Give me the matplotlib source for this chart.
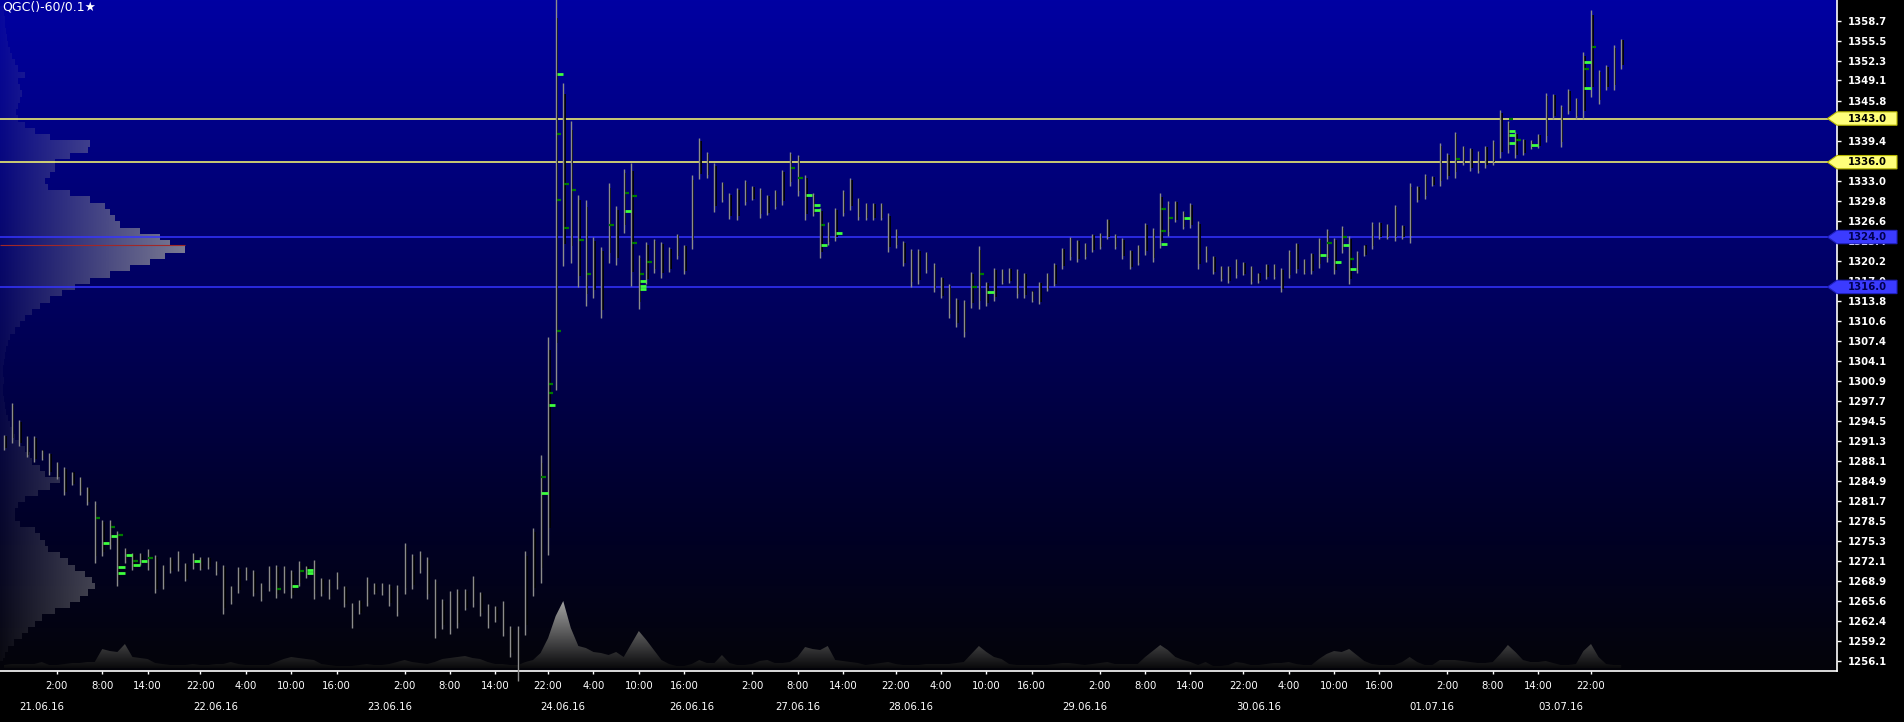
import numpy as np
import pandas as pd
import matplotlib
matplotlib.use('Agg')
import matplotlib.pyplot as plt
from matplotlib import transforms
from matplotlib.colors import LinearSegmentedColormap
from matplotlib.patches import Polygon

# QGC 60 min bars, 20.06.16 19:00 .. 04.07.16 02:00 (no 17:00 bar, no weekend)
bar_high = [
    1292.3, 1297.4, 1294.6, 1292.1, 1292.1, 1289.9, 1289.4, 1288.0, 1287.1, 1286.4,
    1285.6, 1284.0, 1281.7, 1278.6, 1278.6, 1276.9, 1274.1, 1273.4, 1273.3, 1274.0,
    1273.1, 1271.5, 1272.7, 1273.6, 1271.8, 1273.3, 1272.7, 1272.7, 1272.0, 1271.5,
    1268.0, 1271.1, 1271.1, 1270.6, 1268.5, 1271.3, 1271.5, 1271.3, 1270.6, 1272.0,
    1271.3, 1272.3, 1269.4, 1269.2, 1270.3, 1268.1, 1265.4, 1265.8, 1269.5, 1268.5,
    1268.5, 1268.3, 1268.2, 1274.9, 1273.2, 1273.6, 1272.7, 1269.2, 1266.0, 1267.3,
    1267.6, 1267.5, 1269.6, 1267.1, 1265.1, 1264.9, 1265.6, 1261.7, 1261.7, 1273.6,
    1277.3, 1289.0, 1307.9, 1363.0, 1348.7, 1342.6, 1330.8, 1329.9, 1324.0, 1322.4,
    1332.6, 1328.9, 1334.9, 1335.8, 1321.1, 1323.2, 1323.7, 1323.2, 1322.4, 1324.5,
    1322.8, 1333.9, 1339.8, 1337.6, 1335.8, 1332.8, 1331.0, 1331.9, 1333.1, 1332.2,
    1331.9, 1330.8, 1331.5, 1334.7, 1337.6, 1337.2, 1333.9, 1331.0, 1328.7, 1326.4,
    1328.7, 1331.5, 1333.4, 1330.3, 1329.4, 1329.5, 1329.4, 1327.8, 1325.3, 1323.3,
    1322.1, 1322.1, 1321.6, 1319.8, 1317.6, 1316.4, 1314.2, 1313.9, 1318.4, 1322.6,
    1316.8, 1319.1, 1318.8, 1319.0, 1318.8, 1318.3, 1315.4, 1316.8, 1318.2, 1319.8,
    1322.3, 1324.0, 1323.5, 1323.1, 1324.5, 1324.6, 1326.9, 1324.5, 1323.8, 1321.9,
    1322.8, 1326.3, 1325.5, 1331.0, 1329.7, 1329.8, 1328.2, 1329.4, 1326.6, 1322.5,
    1321.0, 1319.3, 1319.3, 1320.5, 1320.0, 1319.3, 1318.3, 1319.6, 1319.6, 1319.0,
    1321.9, 1323.1, 1320.4, 1321.4, 1323.8, 1325.3, 1323.9, 1325.7, 1324.1, 1321.7,
    1322.8, 1326.4, 1326.4, 1326.1, 1329.2, 1325.9, 1332.6, 1332.2, 1334.1, 1333.8,
    1339.0, 1337.4, 1340.9, 1338.6, 1338.3, 1337.8, 1338.6, 1339.5, 1344.3, 1342.6,
    1340.8, 1339.7, 1339.5, 1340.5, 1347.1, 1347.0, 1345.2, 1347.7, 1346.3, 1353.6,
    1360.4, 1350.7, 1351.5, 1354.8, 1355.8]

bar_low = [
    1289.8, 1291.0, 1290.5, 1288.7, 1288.0, 1288.2, 1285.9, 1285.2, 1282.6, 1284.2,
    1282.7, 1281.1, 1271.7, 1272.9, 1274.0, 1268.0, 1271.7, 1270.6, 1271.5, 1270.6,
    1266.9, 1267.5, 1270.1, 1270.4, 1268.8, 1270.8, 1270.6, 1270.8, 1269.8, 1263.6,
    1265.2, 1266.9, 1269.0, 1266.5, 1265.6, 1267.2, 1266.1, 1266.9, 1266.1, 1268.0,
    1269.4, 1266.0, 1266.4, 1265.9, 1267.6, 1264.7, 1261.4, 1263.5, 1264.8, 1266.8,
    1266.6, 1264.9, 1263.3, 1266.8, 1267.6, 1270.1, 1266.0, 1259.8, 1261.2, 1260.3,
    1261.4, 1264.2, 1264.7, 1263.3, 1261.4, 1262.3, 1260.0, 1256.7, 1252.8, 1260.2,
    1266.5, 1268.5, 1273.1, 1299.4, 1319.3, 1319.9, 1316.0, 1312.9, 1314.3, 1311.0,
    1319.9, 1319.5, 1324.7, 1316.1, 1312.5, 1316.4, 1318.3, 1317.5, 1318.4, 1320.4,
    1318.0, 1322.1, 1333.3, 1333.4, 1328.0, 1329.6, 1326.9, 1326.7, 1329.1, 1329.9,
    1327.1, 1327.5, 1328.5, 1329.1, 1332.2, 1330.6, 1326.8, 1327.3, 1320.7, 1322.8,
    1323.3, 1327.3, 1328.4, 1326.7, 1326.8, 1326.8, 1326.8, 1321.6, 1322.3, 1319.3,
    1316.0, 1316.4, 1318.3, 1315.2, 1314.2, 1311.0, 1309.6, 1308.0, 1312.7, 1312.5,
    1312.9, 1313.8, 1316.4, 1316.7, 1314.3, 1314.3, 1313.6, 1313.2, 1315.4, 1316.1,
    1318.9, 1320.3, 1320.0, 1320.4, 1321.6, 1322.1, 1323.7, 1322.1, 1320.5, 1318.8,
    1319.5, 1321.1, 1320.0, 1322.3, 1324.1, 1326.4, 1325.3, 1325.4, 1318.8, 1320.0,
    1318.0, 1317.0, 1316.7, 1317.5, 1317.9, 1316.4, 1316.7, 1317.3, 1317.3, 1315.2,
    1317.4, 1318.3, 1318.0, 1318.1, 1319.1, 1320.0, 1318.0, 1321.4, 1316.4, 1318.3,
    1320.9, 1322.1, 1323.7, 1323.7, 1323.3, 1323.7, 1323.0, 1329.6, 1330.1, 1332.2,
    1332.2, 1333.3, 1333.5, 1335.5, 1334.6, 1334.2, 1335.1, 1335.6, 1336.7, 1337.4,
    1336.7, 1337.1, 1338.1, 1338.3, 1339.2, 1343.0, 1338.4, 1343.7, 1343.0, 1343.0,
    1346.4, 1345.4, 1347.5, 1347.5, 1351.0]

bar_volume = [
    3, 4, 4, 4, 4, 6, 3, 3, 4, 5, 5, 6, 6, 19, 17, 16, 24, 11, 10, 9,
    5, 4, 3, 3, 3, 4, 3, 3, 4, 4, 6, 4, 3, 3, 3, 3, 6, 9, 11, 10,
    9, 8, 4, 3, 2, 2, 2, 3, 4, 3, 3, 4, 6, 8, 6, 5, 4, 6, 9, 10,
    11, 12, 10, 9, 6, 4, 4, 3, 3, 6, 8, 15, 30, 52, 67, 40, 22, 20, 16, 15,
    13, 16, 11, 24, 37, 28, 18, 8, 4, 2, 2, 4, 8, 5, 5, 13, 5, 3, 3, 4,
    7, 8, 5, 5, 6, 11, 21, 19, 18, 22, 8, 7, 6, 5, 3, 4, 5, 6, 4, 3,
    3, 3, 4, 4, 4, 4, 5, 6, 14, 22, 16, 11, 9, 4, 3, 3, 3, 3, 3, 4,
    5, 5, 4, 3, 4, 5, 6, 4, 4, 4, 4, 11, 17, 23, 18, 11, 8, 6, 3, 6,
    2, 2, 3, 6, 5, 3, 3, 4, 5, 5, 6, 4, 3, 3, 9, 14, 17, 16, 19, 13,
    7, 4, 3, 3, 3, 6, 11, 6, 3, 3, 8, 8, 8, 7, 6, 5, 5, 6, 14, 23,
    16, 8, 6, 6, 7, 5, 3, 3, 4, 17, 24, 11, 4, 3, 3]

# volume profile on the left, one row per dollar from 1256 to 1361
profile_prices = list(range(1256, 1362))
profile_volume = [
    3, 5, 8, 14, 22, 28, 35, 42, 55, 70, 80, 88, 95, 92, 85, 75, 68, 60, 48, 45,
    40, 35, 20, 15, 15, 18, 25, 38, 50, 60, 45, 40, 32, 30, 25, 20, 15, 12, 10, 8,
    6, 5, 4, 3, 3, 4, 3, 3, 4, 5, 6, 8, 10, 15, 20, 25, 32, 40, 50, 62,
    75, 90, 110, 130, 150, 165, 185, 170, 160, 140, 120, 115, 110, 105, 90, 70, 48, 45, 50, 55,
    55, 70, 88, 90, 50, 35, 25, 18, 16, 18, 20, 22, 20, 18, 25, 18, 15, 12, 10, 8,
    7, 6, 5, 5, 4, 3]

levels_yellow = [1343.0, 1336.0]
levels_blue = [1324.0, 1316.0]

price_ticks = [1256.1, 1259.2, 1262.4, 1265.6, 1268.9, 1272.1, 1275.3, 1278.5, 1281.7,
               1284.9, 1288.1, 1291.3, 1294.5, 1297.7, 1300.9, 1304.1, 1307.4, 1310.6,
               1313.8, 1317.0, 1320.2, 1323.4, 1326.6, 1329.8, 1333.0, 1336.2, 1339.4,
               1342.6, 1345.8, 1349.1, 1352.3, 1355.5, 1358.7]

time_ticks = ['2016-06-21 02:00', '2016-06-21 08:00', '2016-06-21 14:00', '2016-06-21 22:00',
              '2016-06-22 04:00', '2016-06-22 10:00', '2016-06-22 16:00', '2016-06-23 02:00',
              '2016-06-23 08:00', '2016-06-23 14:00', '2016-06-23 22:00', '2016-06-24 04:00',
              '2016-06-24 10:00', '2016-06-24 16:00', '2016-06-27 02:00', '2016-06-27 08:00',
              '2016-06-27 14:00', '2016-06-27 22:00', '2016-06-28 04:00', '2016-06-28 10:00',
              '2016-06-28 16:00', '2016-06-29 02:00', '2016-06-29 08:00', '2016-06-29 14:00',
              '2016-06-29 22:00', '2016-06-30 04:00', '2016-06-30 10:00', '2016-06-30 16:00',
              '2016-07-01 02:00', '2016-07-01 08:00', '2016-07-01 14:00', '2016-07-03 22:00']

date_ticks = ['2016-06-21 00:00', '2016-06-22 00:00', '2016-06-23 00:00', '2016-06-24 00:00',
              '2016-06-26 18:00', '2016-06-27 08:00', '2016-06-28 00:00', '2016-06-29 00:00',
              '2016-06-30 00:00', '2016-07-01 00:00', '2016-07-03 18:00']

# green footprint marks (bar number, price)
bright_bar = [13, 14, 15, 15, 16, 17, 18, 25, 38, 40, 40, 71, 72, 73, 82, 84, 84, 84,
              106, 107, 107, 108, 110, 130, 153, 156, 174, 176, 177, 178, 199, 199,
              199, 202, 209, 209]
bright_price = [1275.0, 1276.0, 1271.1, 1270.1, 1273.1, 1271.5, 1272.0, 1272.0, 1268.0,
                1270.6, 1270.1, 1282.9, 1297.1, 1350.1, 1328.2, 1316.9, 1316.2, 1315.6,
                1330.8, 1329.2, 1328.4, 1322.8, 1324.6, 1315.2, 1322.9, 1327.0, 1321.1,
                1320.0, 1322.8, 1318.8, 1341.0, 1340.3, 1339.0, 1338.8, 1352.0, 1347.9]
dark_bar = [12, 14, 15, 17, 19, 36, 39, 71, 72, 72, 73, 73, 73, 74, 74, 75, 76, 77, 80,
            82, 83, 83, 84, 85, 104, 105, 108, 128, 129, 153, 153, 154, 175, 177, 178,
            192, 199, 200, 209, 210]
dark_price = [1279.0, 1277.5, 1276.2, 1272.0, 1272.5, 1267.5, 1270.5, 1285.5, 1300.5,
              1299.0, 1340.5, 1330.0, 1309.0, 1332.5, 1325.5, 1331.5, 1323.5, 1318.0,
              1326.0, 1331.0, 1330.5, 1323.0, 1318.0, 1320.0, 1335.0, 1333.5, 1326.0,
              1316.0, 1318.0, 1328.5, 1325.0, 1327.0, 1323.0, 1324.0, 1320.5, 1336.5,
              1343.0, 1339.5, 1351.0, 1354.5]

# bar time index (session break at 17:00, weekend closed)
hours = pd.date_range('2016-06-20 19:00', '2016-07-04 02:00', freq='h')
dow = hours.dayofweek
keep = (hours.hour != 17) & (dow != 5) & ~((dow == 4) & (hours.hour > 16)) & ~((dow == 6) & (hours.hour < 18))
bar_times = hours[keep]
pos = {t: i for i, t in enumerate(bar_times)}
x = np.arange(len(bar_times))
high = np.array(bar_high)
low = np.array(bar_low)

W, H = 1904, 722
fig = plt.figure(figsize=(W / 100, H / 100), dpi=100, facecolor='black')
rect = [0, 51 / H, 1837 / W, 671 / H]
ylim = (1254.43, 1362.0)
xlim = (-0.53, 242.55)

# background + volume profile
axp = fig.add_axes(rect)
axp.set_zorder(0)
axp.set_xlim(0, 1837)
axp.set_ylim(*ylim)
axp.axis('off')
bg = LinearSegmentedColormap.from_list('bg', [(0, '#040409'), (0.25, '#00002c'),
                                              (0.55, '#00005e'), (1, '#0000a2')])
axp.imshow(np.linspace(0, 1, 256).reshape(-1, 1), cmap=bg, origin='lower', aspect='auto',
           extent=[0, 1837, ylim[0], ylim[1]], zorder=0)
pf = axp.fill_betweenx(profile_prices, 0, profile_volume, step='mid',
                       facecolor='none', edgecolor='none')
grad = np.zeros((1, 256, 4))
grad[..., :3] = 0.62
grad[..., 3] = np.linspace(0.05, 0.8, 256)
im = axp.imshow(grad, extent=[0, max(profile_volume) + 5, ylim[0], ylim[1]],
                aspect='auto', zorder=1)
im.set_clip_path(pf.get_paths()[0], transform=axp.transData)
poc = profile_prices[int(np.argmax(profile_volume))] + 0.7
axp.hlines(poc, 0, max(profile_volume), color='#a02828', lw=0.8, zorder=2)

# volume area at the bottom
axv = fig.add_axes(rect)
axv.set_zorder(1)
axv.patch.set_alpha(0)
axv.set_xlim(*xlim)
axv.set_ylim(-3, 668)
axv.axis('off')
vf = axv.fill_between(x, 0, bar_volume, facecolor='none', edgecolor='none')
vcm = LinearSegmentedColormap.from_list('vol', ['#0a0a0c', '#a8a8a8'])
vim = axv.imshow(np.linspace(0, 1, 128).reshape(-1, 1), cmap=vcm, origin='lower',
                 aspect='auto', extent=[xlim[0], xlim[1], 0, 70], zorder=1)
vim.set_clip_path(vf.get_paths()[0], transform=axv.transData)

# price bars
ax = fig.add_axes(rect)
ax.set_zorder(2)
ax.patch.set_alpha(0)
ax.set_xlim(*xlim)
ax.set_ylim(*ylim)

for lv in levels_yellow:
    ax.axhline(lv, color='#ffff70', lw=1.1, zorder=1)
for lv in levels_blue:
    ax.axhline(lv, color='#3535ff', lw=1.1, zorder=1)

rng = high - low
ax.vlines(x + 0.2, low + 0.12 * rng, high - 0.06 * rng, color='black', lw=1.3, zorder=2)
ax.vlines(x, low, high, color='#8c8c8c', lw=1.0, zorder=3, clip_on=False)
ax.hlines(dark_price, np.array(dark_bar) + 0.12, np.array(dark_bar) + 0.7,
          color='#007a00', lw=1.6, zorder=4)
ax.hlines(bright_price, np.array(bright_bar) + 0.12, np.array(bright_bar) + 0.95,
          color='#3dff3d', lw=2.0, zorder=5)

# axes styling
for s in ['left', 'top']:
    ax.spines[s].set_visible(False)
for s in ['right', 'bottom']:
    ax.spines[s].set_color('white')
    ax.spines[s].set_linewidth(1.2)

ax.yaxis.tick_right()
ax.set_yticks(price_ticks)
ax.set_yticklabels([f'{v:.1f}' for v in price_ticks])
ax.tick_params(axis='y', colors='white', length=3, width=1, pad=4.5, labelsize=7.3)
for lab in ax.get_yticklabels():
    lab.set_fontweight('bold')

ax.set_xticks([pos[pd.Timestamp(t)] for t in time_ticks])
ax.set_xticklabels([pd.Timestamp(t).strftime('%-H:%M') for t in time_ticks])
ax.tick_params(axis='x', colors='white', length=2.5, width=1, pad=4.5, labelsize=7.3)

dtrans = transforms.blended_transform_factory(ax.transData, ax.transAxes)
for t in date_ticks:
    ax.text(pos[pd.Timestamp(t)], -0.053, pd.Timestamp(t).strftime('%d.%m.%y'),
            transform=dtrans, ha='center', va='center', color='white', fontsize=7.3,
            clip_on=False)

# price level tags on the right
ltrans = transforms.blended_transform_factory(fig.transFigure, ax.transData)
hh = 1.07
for lv, fc, ec, tc in ([(v, '#ffff7a', '#b8b800', 'black') for v in levels_yellow] +
                       [(v, '#3b3bff', '#2020c0', '#000050') for v in levels_blue]):
    pts = [(1827.5 / W, lv), (1837 / W, lv + hh), (1897 / W, lv + hh),
           (1897 / W, lv - hh), (1837 / W, lv - hh)]
    ax.add_patch(Polygon(pts, closed=True, fc=fc, ec=ec, lw=0.8, transform=ltrans,
                         clip_on=False, zorder=10))
    ax.text(1867 / W, lv, f'{lv:.1f}', transform=ltrans, ha='center', va='center',
            color=tc, fontsize=7.3, fontweight='bold', zorder=11, clip_on=False)

fig.text(2 / W, 1 - 7 / H, 'QGC()-60/0.1\u2605', color='white', fontsize=9,
         ha='left', va='center')

fig.savefig('out.png', dpi=100, facecolor='black')
